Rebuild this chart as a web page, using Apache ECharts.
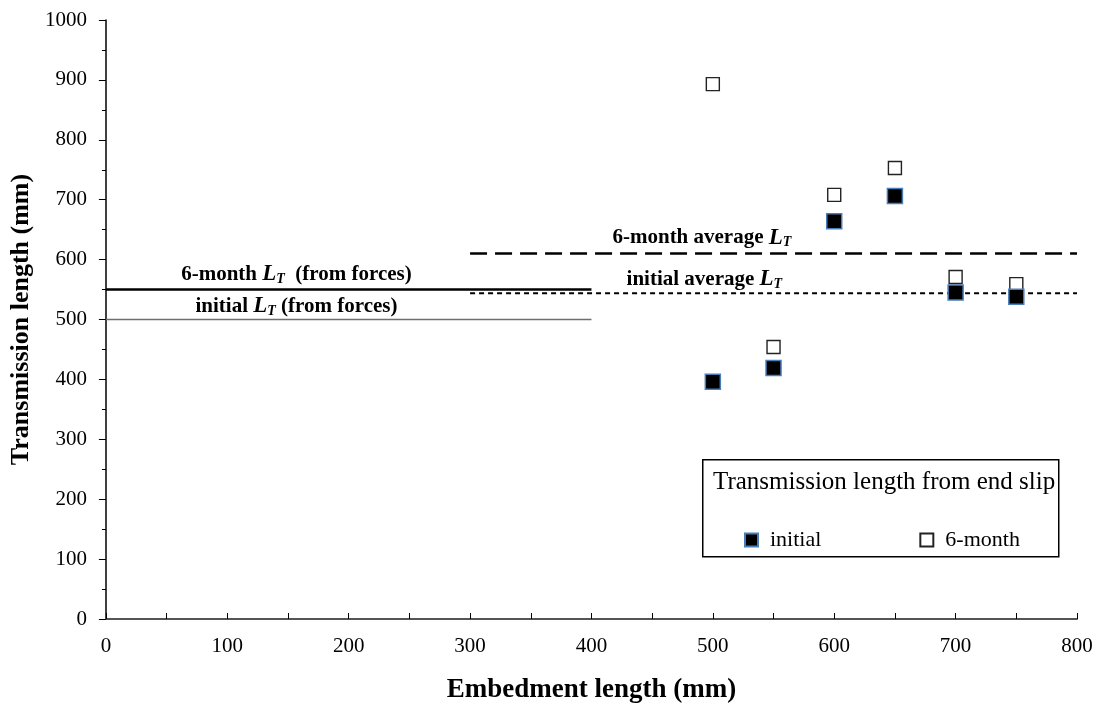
<!DOCTYPE html>
<html>
<head>
<meta charset="utf-8">
<script src="https://cdn.jsdelivr.net/npm/echarts@6/dist/echarts.min.js"></script>
<style>
  html, body { margin: 0; padding: 0; background: #fff; }
  #chart { width: 1105px; height: 720px; }
</style>
</head>
<body>
<div id="chart"></div>
<script>
// embedment lengths tested (mm)
var embedment = [500, 550, 600, 650, 700, 750];
// transmission length from end slip (mm)
var initialLT = [396, 419, 664, 706, 545, 538];
var sixMonthLT = [893, 454, 708, 753, 571, 559];
// reference levels (mm)
var forces6 = 550, forcesInit = 500;
var avg6 = 610, avgInit = 544;
var forcesRange = [0, 400];
var avgRange = [300, 800];

function pairs(xs, ys) {
    return xs.map(function (x, i) { return [x, ys[i]]; });
}
function hline(range, y) {
    return [[range[0], y], [range[1], y]];
}

var serif = 'Liberation Serif';
var myChart = echarts.init(document.getElementById('chart'));

var rich = {
    b: { fontFamily: serif, fontWeight: 'bold', fontSize: 21, color: '#000' },
    L: { fontFamily: serif, fontWeight: 'bold', fontStyle: 'italic', fontSize: 23, color: '#000' },
    T: { fontFamily: serif, fontWeight: 'bold', fontStyle: 'italic', fontSize: 14, color: '#000', verticalAlign: 'bottom', padding: [10, 0, 0, 0] }
};

var option = {
    backgroundColor: '#fff',
    animation: false,
    grid: { left: 105, right: 28, top: 20, bottom: 101 },
    xAxis: {
        type: 'value',
        min: 0, max: 800, interval: 100,
        name: 'Embedment length (mm)',
        nameLocation: 'middle',
        nameGap: 58,
        nameTextStyle: { fontFamily: serif, fontWeight: 'bold', fontSize: 27, color: '#000' },
        axisLine: { onZero: false, lineStyle: { color: '#555', width: 2 } },
        axisTick: { inside: true, length: 6, lineStyle: { color: '#000' } },
        minorTick: { show: true, splitNumber: 2, length: 6, lineStyle: { color: '#000' } },
        axisLabel: { fontFamily: serif, fontSize: 21, color: '#000', margin: 17 },
        splitLine: { show: false }
    },
    yAxis: {
        type: 'value',
        min: 0, max: 1000, interval: 100,
        name: 'Transmission length (mm)',
        nameLocation: 'middle',
        nameGap: 65,
        nameTextStyle: { fontFamily: serif, fontWeight: 'bold', fontSize: 26, color: '#000' },
        axisLine: { onZero: false, lineStyle: { color: '#000', width: 1.5 } },
        axisTick: { length: 7, lineStyle: { color: '#000' } },
        minorTick: { show: true, splitNumber: 2, length: 4, lineStyle: { color: '#000' } },
        axisLabel: { fontFamily: serif, fontSize: 21, color: '#000', margin: 19, formatter: function (v) { return String(v); } },
        splitLine: { show: false }
    },
    legend: {
        left: 739, top: 524, z: 60,
        itemWidth: 13, itemHeight: 13,
        itemGap: 98,
        data: ['initial', '6-month'],
        textStyle: { fontFamily: serif, fontSize: 22, color: '#000', padding: [0, 0, 0, 7] }
    },
    graphic: [
        {
            type: 'rect', left: 702, top: 459, z: 1,
            shape: { width: 356, height: 97 },
            style: { fill: '#fff', stroke: '#000', lineWidth: 1.5 }
        },
        {
            type: 'text', left: 713, top: 470, z: 2,
            style: { text: 'Transmission length from end slip', font: '25px "Liberation Serif"', fill: '#000' }
        }
    ],
    series: [
        {
            name: '6-month from forces', type: 'line', symbol: 'none',
            data: hline(forcesRange, forces6),
            lineStyle: { color: '#000', width: 2.5 }, z: 3
        },
        {
            name: 'initial from forces', type: 'line', symbol: 'none',
            data: hline(forcesRange, forcesInit),
            lineStyle: { color: '#6e6e6e', width: 1.5 }, z: 3
        },
        {
            name: '6-month average', type: 'line', symbol: 'none',
            data: hline(avgRange, avg6),
            lineStyle: { color: '#000', width: 2.5, type: [17, 8] }, z: 3
        },
        {
            name: 'initial average', type: 'line', symbol: 'none',
            data: hline(avgRange, avgInit),
            lineStyle: { color: '#000', width: 2, type: [5, 4] }, z: 3
        },
        {
            name: '6-month', type: 'scatter', symbol: 'rect', symbolSize: 13,
            data: pairs(embedment, sixMonthLT),
            itemStyle: { color: '#fff', borderColor: '#222', borderWidth: 1.4, opacity: 1 }, z: 4
        },
        {
            name: 'initial', type: 'scatter', symbol: 'rect', symbolSize: 15,
            data: pairs(embedment, initialLT),
            itemStyle: { color: '#000', borderColor: '#4a7ebb', borderWidth: 1.5, opacity: 1 }, z: 5
        }
    ]
};
myChart.setOption(option);

// line captions placed from data coordinates
var captions = [
    { x: 157, y: forces6, dy: -15, text: '{b|6-month }{L|L}{T|T}{b|  (from forces)}' },
    { x: 157, y: forcesInit, dy: -13, text: '{b|initial }{L|L}{T|T}{b| (from forces)}' },
    { x: 491, y: avg6, dy: -16, text: '{b|6-month average }{L|L}{T|T}' },
    { x: 493, y: avgInit, dy: -14, text: '{b|initial average }{L|L}{T|T}' }
];
myChart.setOption({
    graphic: option.graphic.concat(captions.map(function (c) {
        var p = myChart.convertToPixel({ xAxisIndex: 0, yAxisIndex: 0 }, [c.x, c.y]);
        return {
            type: 'text', x: p[0], y: p[1] + c.dy, z: 20,
            style: { text: c.text, rich: rich, align: 'center', verticalAlign: 'middle' }
        };
    }))
});
</script>
</body>
</html>
